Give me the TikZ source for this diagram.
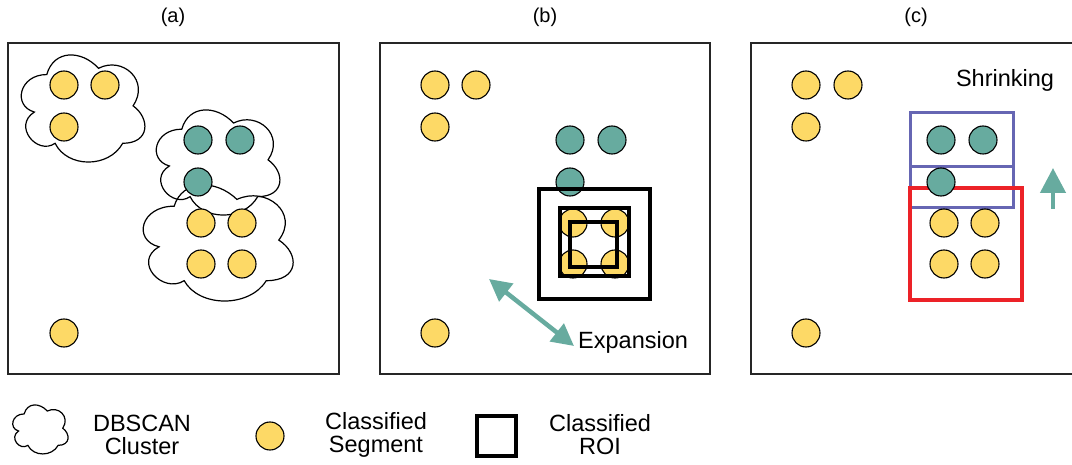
\documentclass[tikz,border=0pt]{standalone}
\usepackage{fontspec}
\setmainfont{Liberation Sans}
\usetikzlibrary{arrows.meta}
\definecolor{segyellow}{HTML}{FDD966}
\definecolor{segteal}{HTML}{67AB9F}
\definecolor{roiblue}{HTML}{6666B3}
\definecolor{roired}{HTML}{EC2228}
\tikzset{
  panel/.style={draw=black!85, line width=1.6pt},
  yseg/.style={circle, draw=black, fill=segyellow, line width=1.1pt, minimum size=28pt, inner sep=0pt},
  tseg/.style={circle, draw=black, fill=segteal, line width=1.1pt, minimum size=28pt, inner sep=0pt},
  cloudline/.style={draw=black, line width=1.2pt},
  roibox/.style={draw=black, line width=3.6pt},
  txt/.style={font=\fontsize{23.5}{24}\selectfont, inner sep=0pt},
  lbl/.style={font=\fontsize{20}{22}\selectfont, inner sep=0pt},
  legtxt/.style={font=\fontsize{23.5}{23}\selectfont, inner sep=0pt, align=center},
  tealarrow/.style={draw=segteal, line width=4.5pt},
}
% draw.io style cloud: #1,#2 = top-left corner, #3,#4 = width,height
\newcommand{\dbcloud}[4]{%
  \begin{scope}[shift={(#1,#2)}, xscale=#3, yscale=#4]
    \draw[cloudline] (0.25,0.25)
      .. controls (0.05,0.25) and (0,0.5) .. (0.16,0.55)
      .. controls (0,0.66) and (0.18,0.9) .. (0.31,0.8)
      .. controls (0.4,1) and (0.7,1) .. (0.8,0.8)
      .. controls (1,0.8) and (1,0.6) .. (0.875,0.5)
      .. controls (1,0.3) and (0.8,0.1) .. (0.625,0.2)
      .. controls (0.5,0.05) and (0.3,0.05) .. (0.25,0.25) -- cycle;
  \end{scope}}
\begin{document}
\begin{tikzpicture}[x=1pt,y=-1pt]
\useasboundingbox (0,0) rectangle (1072,465);
% titles
\node[lbl] (ta) at (173,17) {(a)};
\node[lbl] (tb) at (545,17) {(b)};
\node[lbl] (tc) at (916,17) {(c)};
% panels
\draw[panel] (8,43) rectangle (339,374);
\draw[panel] (380,43) rectangle (710,374);
\draw[panel] (1074,43) -- (751,43) -- (751,374) -- (1074,374);

% ---------- panel (a)
\dbcloud{12.3}{43.3}{138}{125}
\dbcloud{147.3}{98.5}{138}{122.7}
\dbcloud{132.3}{172.3}{167.4}{135.5}
\node[yseg] (a1) at (64,85) {};
\node[yseg] (a2) at (105,85) {};
\node[yseg] (a3) at (64,127) {};
\node[tseg] (a4) at (198,140) {};
\node[tseg] (a5) at (240,140) {};
\node[tseg] (a6) at (198,182) {};
\node[yseg] (a7) at (201,223) {};
\node[yseg] (a8) at (242,223) {};
\node[yseg] (a9) at (201,264) {};
\node[yseg] (a10) at (242,264) {};
\node[yseg] (a11) at (64,333) {};

% ---------- panel (b)
\node[yseg] (b1) at (435,85) {};
\node[yseg] (b2) at (476,85) {};
\node[yseg] (b3) at (435,127) {};
\node[tseg] (b4) at (570,140) {};
\node[tseg] (b5) at (612,140) {};
\node[tseg] (b6) at (570,182) {};
\node[yseg] (b7) at (573,223) {};
\node[yseg] (b8) at (615,223) {};
\node[yseg] (b9) at (573,264) {};
\node[yseg] (b10) at (615,264) {};
\draw[roibox] (539,189) rectangle (650,299);
\draw[roibox] (560,208) rectangle (629,276);
\draw[roibox] (570,222) rectangle (617,267);
\node[yseg] (b11) at (435,333) {};
\coordinate (e1) at (489,279);
\coordinate (e2) at (574,346);
\draw[tealarrow, {Triangle[length=22pt,width=22pt]}-{Triangle[length=22pt,width=22pt]}] (e1) -- (e2);
\node[txt, anchor=west] (exp) at (578,342) {Expansion};

% ---------- panel (c)
\node[yseg] (cc1) at (806,85) {};
\node[yseg] (cc2) at (848,85) {};
\node[yseg] (cc3) at (806,127) {};
\draw[draw=roiblue, line width=3pt] (910,113) rectangle (1013,208);
\draw[draw=roiblue, line width=3pt] (910,167) -- (1013,167);
\draw[draw=roired, line width=3.4pt] (910,188) rectangle (1022,300);
\node[tseg] (cc4) at (941,140) {};
\node[tseg] (cc5) at (983,140) {};
\node[tseg] (cc6) at (941,182) {};
\node[yseg] (cc7) at (944,223) {};
\node[yseg] (cc8) at (985,223) {};
\node[yseg] (cc9) at (944,264) {};
\node[yseg] (cc10) at (985,264) {};
\node[yseg] (cc11) at (806,333) {};
\node[txt] (shr) at (1005,80) {Shrinking};
\coordinate (s1) at (1053,209);
\coordinate (s2) at (1053,168);
\draw[tealarrow, -{Triangle[length=25pt,width=25pt]}] (s1) -- (s2);

% ---------- legend
\dbcloud{8.7}{399.6}{61.8}{57.2}
\node[legtxt] (lct) at (142,435) {DBSCAN\\Cluster};
\node[circle, draw=black, fill=segyellow, line width=1.1pt, minimum width=28pt, inner sep=0pt] (ls) at (270,436) {};
\node[legtxt] (lst) at (376,435) {Classified\\Segment};
\draw[roibox] (477,416) rectangle (516,456);
\node[legtxt] (lrt) at (600,435) {Classified\\ROI};
\end{tikzpicture}
\end{document}
